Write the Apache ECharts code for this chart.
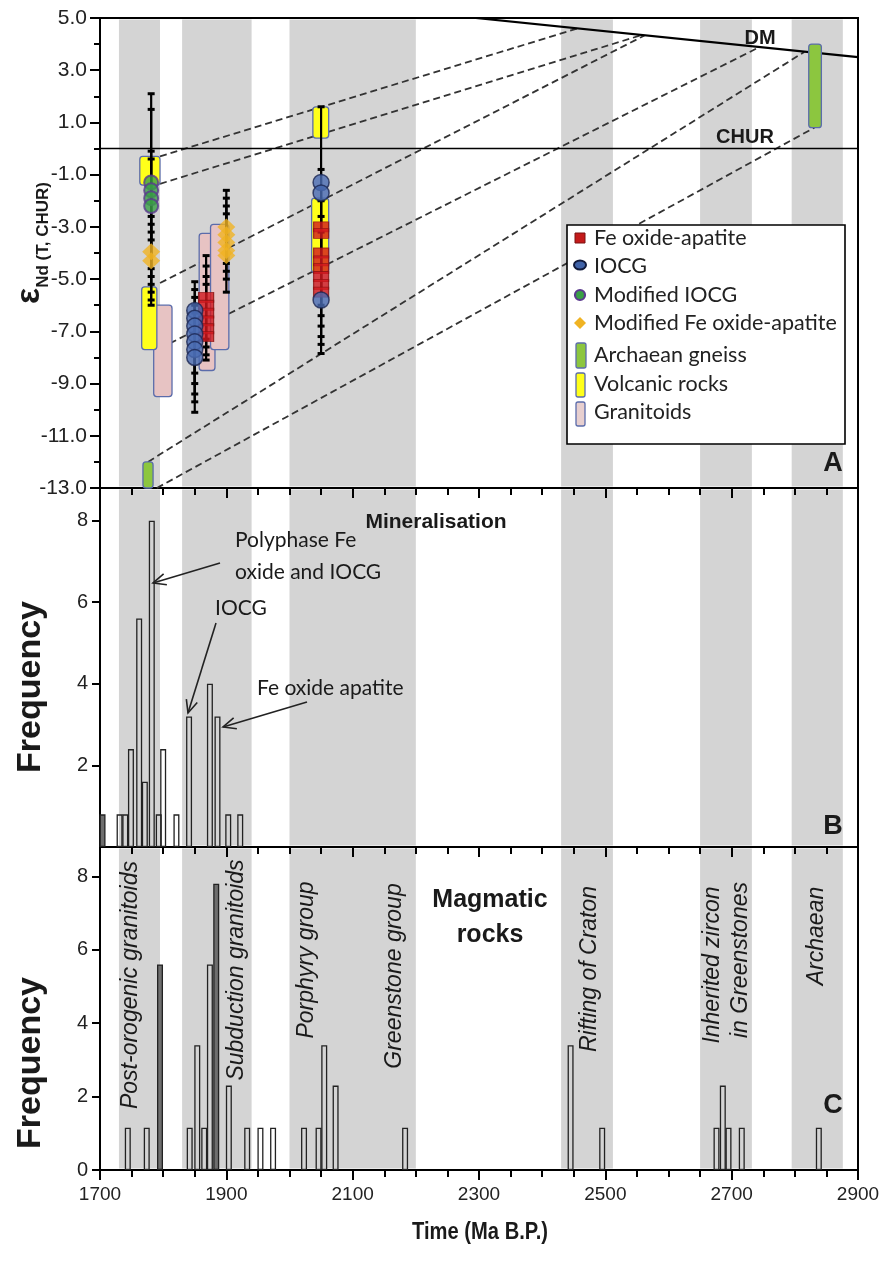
<!DOCTYPE html>
<html><head><meta charset="utf-8">
<script src="https://cdn.jsdelivr.net/npm/echarts@6/dist/echarts.min.js"></script>
<style>html,body{margin:0;padding:0;background:#fff}#c{width:881px;height:1272px}</style>
</head><body><div id="c"></div><script>
// ---------- DATA ----------
const xTicks = [1700, 1900, 2100, 2300, 2500, 2700, 2900];
const bands = [[1730,1795],[1830,1940],[2000,2200],[2430,2512],[2650,2732],[2795,2876]];
// boxes: [xStart, xEnd, yLow, yHigh]
const volcanicBoxes = [[1763,1795,-1.4,-0.3],[1766,1790,-7.7,-5.3],[2037,2062,0.4,1.6],[2035,2062,-4.75,-1.9]];
const granitoidBoxes = [[1785,1814,-9.5,-6.0],[1857,1882,-8.5,-3.25],[1875,1904,-7.7,-2.9]];
const gneissBoxes = [[1768,1784,-13.0,-12.0],[2822,2842,0.8,4.0]];
// error bars: [x, low, high]
const errorBars = [
  [1781,-4.6,2.1],[1781,-4.9,1.5],[1781,-5.2,-0.1],[1781,-5.5,-0.4],[1781,-5.8,-2.6],[1781,-6.0,-2.9],[1781,-3.5,-3.2],
  [1850,-8.6,-5.1],[1850,-9.0,-5.4],[1850,-9.4,-5.7],[1850,-9.7,-6.0],[1850,-10.1,-6.3],
  [1868,-7.3,-4.1],[1868,-7.6,-4.5],[1868,-7.9,-4.9],[1868,-8.1,-5.2],
  [1900,-4.4,-1.6],[1900,-4.7,-1.9],[1900,-5.0,-2.2],[1900,-5.5,-2.5],
  [2050,-6.0,1.6],[2050,-6.4,-0.8],[2050,-6.8,-1.5],[2050,-7.2,-2.0],[2050,-7.5,-2.6],[2050,-7.85,-3.2]
];
const feOxideApatite = [[1868,-5.7],[1868,-6.0],[1868,-6.3],[1868,-6.6],[1868,-6.9],[1868,-7.2],
  [2050,-3.0],[2050,-3.25],[2050,-4.0],[2050,-4.3],[2050,-4.6],[2050,-4.9],[2050,-5.2],[2050,-5.5]];
const iocg = [[1850,-6.2],[1850,-6.5],[1850,-6.8],[1850,-7.1],[1850,-7.4],[1850,-7.7],[1850,-8.0],
  [2050,-1.3],[2050,-1.7],[2050,-5.8]];
const modifiedIocg = [[1781,-1.3],[1781,-1.6],[1781,-1.9],[1781,-2.2]];
const modifiedFeOxide = [[1781,-3.95],[1781,-4.3],[1900,-3.0],[1900,-3.3],[1900,-3.6],[1900,-3.9],[1900,-4.1]];
const dmLine = [[2295,5.0],[2900,3.5]];
const churLine = [[1700,0],[2900,0]];
const modelAgeLines = [
  [[1795,-0.3],[2456,4.6]],
  [[1795,-1.35],[2558,4.35]],
  [[1795,-5.15],[2562,4.33]],
  [[1795,-7.65],[2741,3.85]],
  [[1776,-12.0],[2815,3.7]],
  [[1790,-13.0],[2831,0.8]]
];
const mineralBins = [1704,1731,1740,1749,1762,1771,1782,1793,1800,1821,1841,1874,1886,1903,1922];
const mineralFreq = [0.8,0.8,0.8,2.4,5.6,1.6,8.0,0.8,2.4,0.8,3.2,4.0,3.2,0.8,0.8];
const mineralDark = [1704];
const magmaticBins = [1744,1774,1795,1842,1854,1865,1874,1884,1904,1933,1954,1974,2023,2046,2055,2073,2183,2445,2495,2676,2686,2695,2716,2838];
const magmaticFreq = [1.15,1.15,5.6,1.15,3.4,1.15,5.6,7.8,2.3,1.15,1.15,1.15,1.15,1.15,3.4,2.3,1.15,3.4,1.15,1.15,2.3,1.15,1.15,1.15];
const magmaticDark = [1795,1884];

// ---------- STYLE ----------
const SANS = "'Liberation Sans', Arial, sans-serif";
const CAL = "Lato, 'Open Sans', sans-serif";
const BAND = '#d4d4d4';
const BOXBORDER = '#5b6cab';

const chart = echarts.init(document.getElementById('c'), null, {renderer:'canvas'});

const grids = [
  {left:100, top:18, width:758, height:470},
  {left:100, top:488, width:758, height:359},
  {left:100, top:847, width:758, height:323}
].map(g => Object.assign(g, {show:true, borderColor:'#000', borderWidth:2, backgroundColor:'transparent',
  containLabel:false, outerBoundsMode:'none'}));

function xAxis(i, labels){
  return {type:'value', gridIndex:i, min:1700, max:2900, interval:200,
    axisLine:{show:true, onZero:false, lineStyle:{color:'#000', width:2}},
    axisTick:{show:true, length:10, lineStyle:{color:'#000', width:2}},
    minorTick:{show:true, splitNumber:4, length:7, lineStyle:{color:'#000', width:2}},
    splitLine:{show:false}, minorSplitLine:{show:false},
    axisLabel:{show:labels, fontFamily:SANS, fontSize:19, color:'#222', margin:15, formatter:v=>String(v)}};
}
const xAxes = [xAxis(0,false), xAxis(1,false), xAxis(2,true)];
const yAxes = [
  {type:'value', gridIndex:0, min:-13, max:5, interval:2,
   axisLine:{show:true, lineStyle:{color:'#000', width:2}},
   axisTick:{show:true, length:10, lineStyle:{color:'#000', width:2}},
   minorTick:{show:true, splitNumber:2, length:6, lineStyle:{color:'#000', width:2}},
   splitLine:{show:false}, minorSplitLine:{show:false},
   axisLabel:{fontFamily:SANS, fontSize:21, color:'#222', margin:13, formatter:v=>v.toFixed(1)}},
  {type:'value', gridIndex:1, min:0, max:8.8, interval:2,
   axisLine:{show:true, lineStyle:{color:'#000', width:2}},
   axisTick:{show:true, length:8, lineStyle:{color:'#000', width:2}},
   splitLine:{show:false},
   axisLabel:{fontFamily:SANS, fontSize:20, color:'#222', margin:12, showMinLabel:false, showMaxLabel:false,
     formatter:v=> (v>0 && v<=8 && v%2===0) ? String(v) : ''}},
  {type:'value', gridIndex:2, min:0, max:8.8, interval:2,
   axisLine:{show:true, lineStyle:{color:'#000', width:2}},
   axisTick:{show:true, length:8, lineStyle:{color:'#000', width:2}},
   splitLine:{show:false},
   axisLabel:{fontFamily:SANS, fontSize:20, color:'#222', margin:12, showMaxLabel:false,
     formatter:v=> (v<=8 && v%2===0) ? String(v) : ''}}
];

function bandSeries(i){
  return {type:'custom', xAxisIndex:i, yAxisIndex:i, silent:true, z:0, data:bands,
    encode:{x:[0,1]},
    renderItem(params, api){
      const cs = params.coordSys;
      const x0 = api.coord([api.value(0), i===0 ? -13 : 0])[0];
      const x1 = api.coord([api.value(1), i===0 ? -13 : 0])[0];
      return {type:'rect', shape:{x:x0, y:cs.y+1.5, width:x1-x0, height:cs.height-3}, style:{fill:BAND}};
    }};
}
function boxSeries(name, data, fill, z){
  return {name, type:'custom', xAxisIndex:0, yAxisIndex:0, z, data, encode:{x:[0,1], y:[2,3]},
    renderItem(params, api){
      const p0 = api.coord([api.value(0), api.value(3)]);
      const p1 = api.coord([api.value(1), api.value(2)]);
      return {type:'rect', shape:{x:p0[0], y:p0[1], width:p1[0]-p0[0], height:p1[1]-p0[1], r:3},
        style:{fill, stroke:BOXBORDER, lineWidth:1.3}};
    }};
}
const errSeries = {type:'custom', xAxisIndex:0, yAxisIndex:0, z:4, data:errorBars, encode:{x:0, y:[1,2]},
  renderItem(params, api){
    const lo = api.coord([api.value(0), api.value(1)]);
    const hi = api.coord([api.value(0), api.value(2)]);
    const w = 3.5;
    return {type:'group', children:[
      {type:'line', shape:{x1:lo[0], y1:lo[1], x2:hi[0], y2:hi[1]}, style:{stroke:'#000', lineWidth:2.2}},
      {type:'line', shape:{x1:lo[0]-w, y1:lo[1], x2:lo[0]+w, y2:lo[1]}, style:{stroke:'#000', lineWidth:3}},
      {type:'line', shape:{x1:hi[0]-w, y1:hi[1], x2:hi[0]+w, y2:hi[1]}, style:{stroke:'#000', lineWidth:3}}
    ]};
  }};

const series = [
  bandSeries(0), bandSeries(1), bandSeries(2),
  ...modelAgeLines.map(l => ({type:'line', xAxisIndex:0, yAxisIndex:0, z:2, data:l, symbol:'none', silent:true,
     lineStyle:{color:'#333', width:1.8, type:[7,4]}})),
  {type:'line', xAxisIndex:0, yAxisIndex:0, z:2, data:dmLine, symbol:'none', lineStyle:{color:'#000', width:2.2}},
  {type:'line', xAxisIndex:0, yAxisIndex:0, z:2, data:churLine, symbol:'none', lineStyle:{color:'#000', width:1.6}},
  boxSeries('Granitoids', granitoidBoxes, '#e7c3c3', 3),
  boxSeries('Volcanic rocks', volcanicBoxes, '#ffff1a', 3),
  boxSeries('Archaean gneiss', gneissBoxes, '#8cc63f', 3),
  errSeries,
  {name:'Fe oxide-apatite', type:'scatter', xAxisIndex:0, yAxisIndex:0, z:5, data:feOxideApatite, symbol:'rect', symbolSize:[15,10],
   itemStyle:{color:'#d2181e', borderColor:'#8a1212', borderWidth:1}},
  {name:'IOCG', type:'scatter', xAxisIndex:0, yAxisIndex:0, z:5, data:iocg, symbol:'circle', symbolSize:16,
   itemStyle:{color:'#4a6cb3', borderColor:'#1b2752', borderWidth:1.5}},
  {name:'Modified IOCG', type:'scatter', xAxisIndex:0, yAxisIndex:0, z:5, data:modifiedIocg, symbol:'circle', symbolSize:14,
   itemStyle:{color:'#3aa046', borderColor:'#5b3a8e', borderWidth:2}},
  {name:'Modified Fe oxide-apatite', type:'scatter', xAxisIndex:0, yAxisIndex:0, z:5, data:modifiedFeOxide, symbol:'diamond', symbolSize:[18,17],
   itemStyle:{color:'#f0b323'}},
  {type:'bar', xAxisIndex:1, yAxisIndex:1, z:3, barWidth:6,
   data:mineralBins.map((x,i)=>({value:[x, mineralFreq[i]], itemStyle: mineralDark.includes(x)?{color:'#6e6e6e'}:{}})),
   itemStyle:{color:'rgba(0,0,0,0)', borderColor:'#222', borderWidth:1.3}},
  {type:'bar', xAxisIndex:2, yAxisIndex:2, z:3, barWidth:6,
   data:magmaticBins.map((x,i)=>({value:[x, magmaticFreq[i]], itemStyle: magmaticDark.includes(x)?{color:'#6e6e6e'}:{}})),
   itemStyle:{color:'rgba(0,0,0,0)', borderColor:'#222', borderWidth:1.3}}
];

// ---------- ANNOTATIONS ----------
function txt(x,y,text,font,opts,extra){
  return Object.assign({type:'text', x, y, z:100, style:Object.assign({text, font, fill:'#1a1a1a', align:'center', verticalAlign:'middle'}, opts||{})}, extra||{});
}
function vtxt(x,y,text,font){
  return {type:'text', x, y, rotation:Math.PI/2, z:100, style:{text, font, fill:'#1a1a1a', align:'center', verticalAlign:'middle'}};
}
function arrow(x1,y1,x2,y2){
  const a = Math.atan2(y2-y1, x2-x1), L = 14, s = 0.42;
  return [
    {type:'line', z:100, shape:{x1,y1,x2,y2}, style:{stroke:'#222', lineWidth:1.6}},
    {type:'polyline', z:100, shape:{points:[[x2-L*Math.cos(a-s), y2-L*Math.sin(a-s)],[x2,y2],[x2-L*Math.cos(a+s), y2-L*Math.sin(a+s)]]},
     style:{stroke:'#222', lineWidth:1.6, fill:null}}
  ];
}
const legendItems = [
  {y:238, label:'Fe oxide-apatite', shape:{type:'rect', shape:{x:575,y:233,width:10,height:10}, style:{fill:'#c41a1a', stroke:'#7a1010', lineWidth:1}}},
  {y:266, label:'IOCG', shape:{type:'ellipse', shape:{cx:580,cy:265,rx:6,ry:4.5}, style:{fill:'#3f62a8', stroke:'#111a3c', lineWidth:2}}},
  {y:295, label:'Modified IOCG', shape:{type:'circle', shape:{cx:580,cy:295,r:5}, style:{fill:'#3aa046', stroke:'#5b3a8e', lineWidth:2.2}}},
  {y:323, label:'Modified Fe oxide-apatite', shape:{type:'polygon', shape:{points:[[580,317],[586,323],[580,329],[574,323]]}, style:{fill:'#f0b323'}}},
  {y:355, label:'Archaean gneiss', shape:{type:'rect', shape:{x:576,y:343,width:10,height:25,r:2}, style:{fill:'#8cc63f', stroke:BOXBORDER, lineWidth:1.3}}},
  {y:384, label:'Volcanic rocks', shape:{type:'rect', shape:{x:576,y:373,width:9,height:24,r:2}, style:{fill:'#ffff1a', stroke:BOXBORDER, lineWidth:1.3}}},
  {y:412, label:'Granitoids', shape:{type:'rect', shape:{x:576,y:402,width:9,height:24,r:2}, style:{fill:'#e7cfcf', stroke:BOXBORDER, lineWidth:1.3}}}
];
const graphic = [
  {type:'rect', z:90, shape:{x:567, y:225, width:278, height:219}, style:{fill:'#fff', stroke:'#000', lineWidth:1.6}},
  ...legendItems.map(it => Object.assign({z:95}, it.shape)),
  ...legendItems.map(it => txt(594, it.y, it.label, `21.5px ${CAL}`, {align:'left', fill:'#222'})),
  txt(760, 38, 'DM', `bold 20px ${SANS}`),
  txt(745, 137, 'CHUR', `bold 20px ${SANS}`),
  txt(833, 464, 'A', `bold 27px ${SANS}`),
  txt(833, 827, 'B', `bold 27px ${SANS}`),
  txt(833, 1106, 'C', `bold 27px ${SANS}`),
  {type:'text', x:30, y:243, rotation:Math.PI/2, z:100, style:{
    text:'{e|ε}{s|Nd (T, CHUR)}', align:'center', verticalAlign:'middle', fill:'#1a1a1a',
    rich:{e:{font:`bold 34px ${SANS}`, verticalAlign:'middle', lineHeight:36}, s:{font:`bold 17px ${SANS}`, verticalAlign:'bottom', lineHeight:36, padding:[0,0,-4,0]}}}},
  vtxt(31, 687, 'Frequency', `bold 34px ${SANS}`),
  vtxt(31, 1063, 'Frequency', `bold 34px ${SANS}`),
  txt(480, 1232, 'Time (Ma B.P.)', `bold 24px ${SANS}`, {}, {scaleX:0.84}),
  txt(436, 522, 'Mineralisation', `bold 21px ${SANS}`),
  txt(235, 540, 'Polyphase Fe', `21px ${CAL}`, {align:'left'}),
  txt(235, 572, 'oxide and IOCG', `21px ${CAL}`, {align:'left'}),
  txt(241, 608, 'IOCG', `21px ${CAL}`),
  txt(257, 688, 'Fe oxide apatite', `21px ${CAL}`, {align:'left'}),
  ...arrow(220,563,153,583),
  ...arrow(216,623,188,713),
  ...arrow(307,702,223,727),
  txt(490, 900, 'Magmatic', `bold 25px ${SANS}`),
  txt(490, 935, 'rocks', `bold 25px ${SANS}`),
  vtxt(131, 985, 'Post-orogenic granitoids', `italic 23px ${SANS}`),
  vtxt(237, 970, 'Subduction granitoids', `italic 23px ${SANS}`),
  vtxt(307, 960, 'Porphyry group', `italic 23px ${SANS}`),
  vtxt(395, 976, 'Greenstone group', `italic 23px ${SANS}`),
  vtxt(590, 969, 'Rifting of Craton', `italic 23px ${SANS}`),
  vtxt(713, 965, 'Inherited zircon', `italic 23px ${SANS}`),
  vtxt(741, 960, 'in Greenstones', `italic 23px ${SANS}`),
  vtxt(817, 936, 'Archaean', `italic 23px ${SANS}`)
];

chart.setOption({
  animation:false,
  backgroundColor:'#fff',
  grid:grids, xAxis:xAxes, yAxis:yAxes, series, graphic
});
</script></body></html>
